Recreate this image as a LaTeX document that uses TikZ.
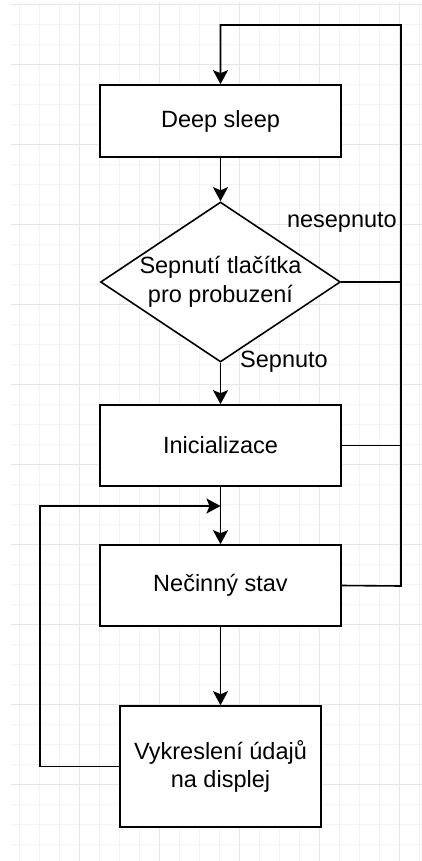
\documentclass[tikz,border=0pt]{standalone}
\usepackage{fontspec}
\setmainfont{Liberation Sans}
\usetikzlibrary{shapes.geometric,arrows.meta}
\definecolor{gminor}{HTML}{F3F3F3}
\definecolor{gmajor}{HTML}{E6E6E6}
\begin{document}
\begin{tikzpicture}[x=1pt,y=-1pt,
  every node/.style={font=\fontsize{23.5}{28.5}\selectfont, text=black},
  box/.style={draw=black, line width=1.6pt, fill=white, rectangle, inner sep=0pt},
  dia/.style={draw=black, line width=1.6pt, fill=white, diamond, inner sep=0pt, minimum width=240pt, minimum height=160pt},
  conn/.style={draw=black, line width=1.6pt},
  arr/.style={conn, -{Stealth[length=14pt,width=15pt,inset=3pt]}},
  lbl/.style={inner sep=0pt}
]
\useasboundingbox (0,0) rectangle (422,861);
\fill[white] (0,0) rectangle (422,861);
% grid
\foreach \x in {19.5,39.5,59.5,99.5,119.5,139.5,179.5,199.5,219.5,259.5,279.5,299.5,339.5,359.5,379.5,419.5}
  \draw[gminor, line width=1.2pt] (\x,2) -- (\x,861);
\foreach \y in {24.5,44.5,84.5,104.5,124.5,164.5,184.5,204.5,244.5,264.5,284.5,324.5,344.5,364.5,404.5,424.5,444.5,484.5,504.5,524.5,564.5,584.5,604.5,644.5,664.5,684.5,724.5,744.5,764.5,804.5,824.5,844.5}
  \draw[gminor, line width=1.2pt] (11,\y) -- (422,\y);
\foreach \x in {79.5,159.5,239.5,319.5,399.5}
  \draw[gmajor, line width=1.2pt] (\x,2) -- (\x,861);
\foreach \y in {4.5,64.5,144.5,224.5,304.5,384.5,464.5,544.5,624.5,704.5,784.5}
  \draw[gmajor, line width=1.2pt] (11,\y) -- (422,\y);

% nodes
\node[box, minimum width=241pt, minimum height=72pt] (ds) at (220.5,121) {Deep sleep};
\node[dia] (dec) at (220.5,282) {};
\node[lbl, align=center] (dect) at (220.5,282) {Sepnutí tlačítka\\pro probuzení};
\node[box, minimum width=241pt, minimum height=81pt] (ini) at (220.5,445.5) {Inicializace};
\node[box, minimum width=241pt, minimum height=81pt] (nec) at (220.5,585.5) {Nečinný stav};
\node[box, minimum width=201pt, minimum height=121pt, align=center] (vyk) at (220.5,766.5) {Vykreslení údajů\\na displej};

% labels
\node[lbl, anchor=east] (nes) at (397,222) {nesepnuto};
\node[lbl, anchor=west] (sep) at (240,362) {Sepnuto};

% coordinates
\coordinate (rtop) at (401,25);
\coordinate (ltop) at (220.5,25);
\coordinate (rnec) at (401,586);
\coordinate (lbot) at (40,766.5);
\coordinate (lup) at (40,506);
\coordinate (jn) at (220.5,506);

% connectors
\draw[arr] (ds.south) -- (dec.north);
\draw[arr] (dec.south) -- (ini.north);
\draw[arr] (ini.south) -- (nec.north);
\draw[arr] (nec.south) -- (vyk.north);
\draw[conn] (dec.east) -- (dec.east -| rtop);
\draw[conn] (ini.east) -- (ini.east -| rtop);
\draw[arr] (nec.east) -- (rnec) -- (rtop) -- (ltop) -- (ds.north);
\draw[arr] (vyk.west) -- (lbot) -- (lup) -- (jn);
\end{tikzpicture}
\end{document}
